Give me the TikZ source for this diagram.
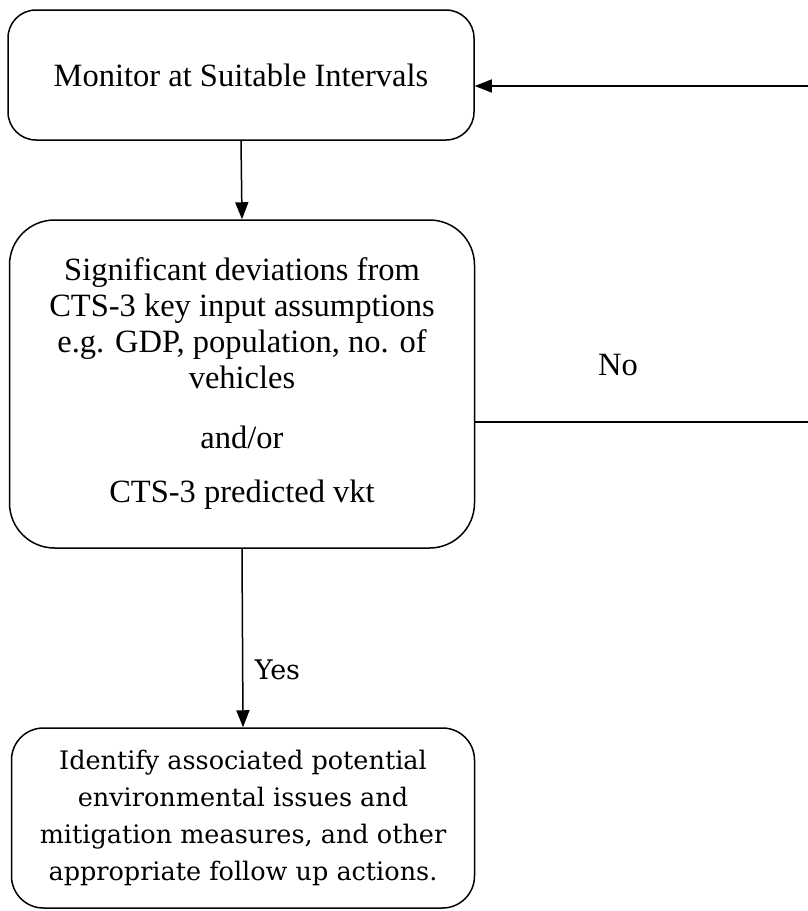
\documentclass[tikz,border=0pt]{standalone}
\usepackage{fontspec}
\setmainfont{Liberation Serif}
\newfontfamily\bookfont{DejaVu Serif}
\usetikzlibrary{arrows.meta}
\begin{document}
\begin{tikzpicture}[x=1pt,y=-1pt,
  box/.style={draw,line width=1.5pt,align=center,inner sep=0pt,font=\fontsize{32.5}{36}\selectfont},
  flow/.style={line width=1.5pt,-{Triangle[length=17pt,width=13pt]}}]
\useasboundingbox (0,0) rectangle (808,911);
\node [box,rounded corners=28pt,minimum width=466pt,minimum height=130pt] (monitor) at (241,75) {Monitor at Suitable Intervals};
\node [box,rounded corners=45pt,minimum width=465pt,minimum height=328pt] (check) at (242,384)
  {Significant deviations from\\CTS-3 key input assumptions\\e.g. GDP, population, no. of\\vehicles\\[24pt]and/or\\[18pt]CTS-3 predicted vkt};
\node [box,rounded corners=32pt,minimum width=463pt,minimum height=180pt,font=\bookfont\fontsize{25.5}{37}\selectfont] (action) at (243,818)
  {Identify associated potential\\environmental issues and\\mitigation measures, and other\\appropriate follow up actions.};
\coordinate (back) at (808,86);
\coordinate (nofree) at (808,422);
\draw [flow] (back) -- (back -| monitor.east);
\draw [flow] (monitor.south) -- (check.north);
\draw [line width=1.5pt] (nofree -| check.east) -- (nofree);
\node [font=\fontsize{32.5}{36}\selectfont] (no) at (618,365) {No};
\draw [flow] (check.south) -- node [right,xshift=8pt,pos=0.68,font=\bookfont\fontsize{27}{30}\selectfont] (yes) {Yes} (action.north);
\end{tikzpicture}
\end{document}
